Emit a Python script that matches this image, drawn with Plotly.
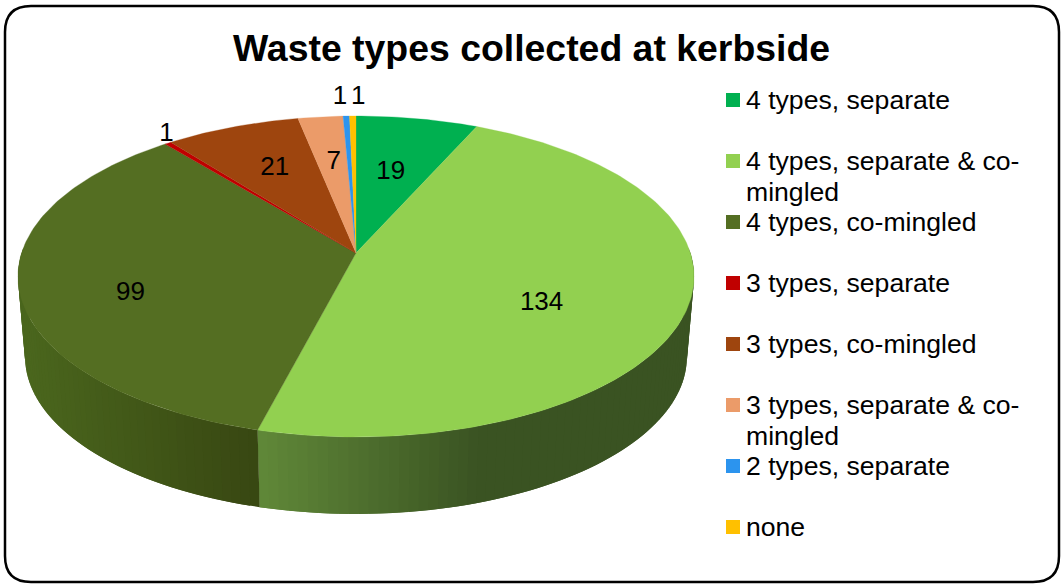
import math
import plotly.graph_objects as go

# ---- data ----
categories = ["4 types, separate", "4 types, separate & co-mingled", "4 types, co-mingled",
              "3 types, separate", "3 types, co-mingled", "3 types, separate & co-mingled",
              "2 types, separate", "none"]
values = [19, 134, 99, 1, 21, 7, 1, 1]
legend_lines = [["4 types, separate"], ["4 types, separate & co-", "mingled"], ["4 types, co-mingled"],
                ["3 types, separate"], ["3 types, co-mingled"], ["3 types, separate & co-", "mingled"],
                ["2 types, separate"], ["none"]]
title_text = "Waste types collected at kerbside"

# ---- style ----
colors = ["#00B050", "#92D050", "#546E22", "#C00000", "#9E450E", "#EB9B69", "#2C94EE", "#FFC000"]
FONT = "Liberation Sans, Arial, sans-serif"

# ---- pie geometry (axes run in page pixels) ----
CX, CY, A, B, K = 356, 253, 334.4, 157.06, 0.1464
BASE_SCALE, BASE_Y = 0.979, 333.8
total = sum(values)


def project(theta_deg, r=1.0):
    t = math.radians(theta_deg)
    u, v = r * math.sin(t), r * math.cos(t)
    w = 1 + K * v
    return A * u / w, -B * v / w


def top(theta, r=1.0):
    dx, dy = project(theta, r)
    return CX + dx, CY + dy


def base(theta):
    dx, dy = project(theta)
    return CX + BASE_SCALE * dx, BASE_Y + BASE_SCALE * dy


def lerp_hex(c0, c1, f):
    f = max(0.0, min(1.0, f))
    return "#" + "".join(f"{round(a + (b - a) * f):02X}" for a, b in zip(c0, c1))


def wall_color(i, x):
    if i == 1:  # light green slice
        return lerp_hex((0x60, 0x88, 0x38), (0x3A, 0x53, 0x22), (x - 259) / (480 - 259))
    return lerp_hex((0x4A, 0x66, 0x1D), (0x38, 0x47, 0x12), (x - 25) / (258 - 25))


bounds = [0.0]
for val in values:
    bounds.append(bounds[-1] + val / total * 360)

fig = go.Figure()

# side wall: narrow strips, each one running under the next so that no seams show
STEP = 1.5
for i in (1, 2):
    a0, a1 = max(bounds[i], 88.0), min(bounds[i + 1], 272.0)
    n = max(1, round((a1 - a0) / STEP))
    for j in range(n):
        s0 = a0 + (a1 - a0) * j / n
        s1 = a0 + (a1 - a0) * (j + 1) / n
        s2 = a0 + (a1 - a0) * min(j + 2, n) / n
        p = [top(s0), top(s1), top(s2), base(s2), base(s1), base(s0), top(s0)]
        col = wall_color(i, (top(s0)[0] + top(s1)[0]) / 2)
        fig.add_trace(go.Scatter(x=[q[0] for q in p], y=[q[1] for q in p], mode="lines",
                                 fill="toself", fillcolor=col, line=dict(color=col, width=0),
                                 hoverinfo="skip", showlegend=False))

# top faces
for i, cat in enumerate(categories):
    n = max(2, int((bounds[i + 1] - bounds[i]) / 1.0))
    pts = [(CX, CY)] + [top(bounds[i] + (bounds[i + 1] - bounds[i]) * j / n) for j in range(n + 1)] + [(CX, CY)]
    fig.add_trace(go.Scatter(x=[q[0] for q in pts], y=[q[1] for q in pts], mode="lines", fill="toself",
                             fillcolor=colors[i], line=dict(color=colors[i], width=0.3),
                             name=cat, text=[str(values[i])] * len(pts), hoverinfo="name+text",
                             showlegend=False))

# data labels: radial fraction along each slice's middle, plus a small nudge
label_radius = [0.60, 0.56, 0.67, 1.08, 0.62, 0.68, 1.16, 1.16]
label_nudge = [(-4, 4), (4, 20), (-2, 17), (12, -1), (-1, -3), (3, 6), (-5, 0), (6, 0)]
lx, ly = [], []
for i in range(len(values)):
    x, y = top((bounds[i] + bounds[i + 1]) / 2, label_radius[i])
    lx.append(x + label_nudge[i][0])
    ly.append(y + label_nudge[i][1])
fig.add_trace(go.Scatter(x=lx, y=ly, mode="text", text=[str(v) for v in values],
                         textposition="middle center", textfont=dict(family=FONT, size=26, color="#000000"),
                         hoverinfo="skip", showlegend=False))

# legend
LEG_X, LEG_Y0, LEG_DY, LINE_H = 733, 100, 61, 30.5
fig.add_trace(go.Scatter(x=[LEG_X] * len(categories), y=[LEG_Y0 + LEG_DY * i for i in range(len(categories))],
                         mode="markers", marker=dict(symbol="square", size=14, color=colors, line=dict(width=0)),
                         hoverinfo="skip", showlegend=False))
annotations = []
for i, lines in enumerate(legend_lines):
    for j, line in enumerate(lines):
        annotations.append(dict(x=746, y=LEG_Y0 + LEG_DY * i + LINE_H * j, xref="x", yref="y", text=line,
                                showarrow=False, xanchor="left", yanchor="middle", xshift=-2,
                                font=dict(family=FONT, size=26.6, color="#000000")))

# rounded frame
L, T, R, Bt, C = 5, 6, 1059, 582, 26
frame = (f"M{L + C},{T} L{R - C},{T} Q{R},{T} {R},{T + C} L{R},{Bt - C} Q{R},{Bt} {R - C},{Bt} "
         f"L{L + C},{Bt} Q{L},{Bt} {L},{Bt - C} L{L},{T + C} Q{L},{T} {L + C},{T} Z")

fig.update_layout(
    width=1064, height=585, margin=dict(l=0, r=0, t=0, b=0), autosize=False,
    paper_bgcolor="#FFFFFF", plot_bgcolor="#FFFFFF", showlegend=False,
    title=dict(text=f"<b>{title_text}</b>", x=531.5 / 1064, xanchor="center", y=1 - 48 / 585, yanchor="middle",
               font=dict(family=FONT, size=37.4, color="#000000")),
    xaxis=dict(range=[0, 1064], visible=False, fixedrange=True),
    yaxis=dict(range=[585, 0], visible=False, fixedrange=True),
    annotations=annotations,
    shapes=[dict(type="path", path=frame, xref="x", yref="y", line=dict(color="#000000", width=2.5), layer="below")],
)

fig.write_html("out.html", config={"displayModeBar": False},
               post_script="document.body.style.margin='0';document.body.style.overflow='hidden';")
